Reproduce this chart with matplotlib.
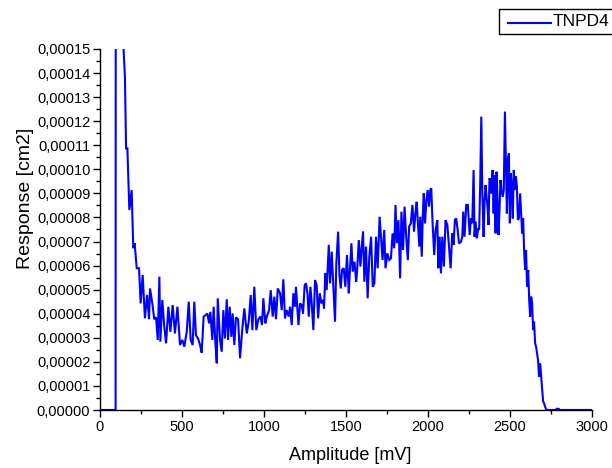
import matplotlib
matplotlib.use("Agg")
import matplotlib.pyplot as plt
from matplotlib.ticker import MultipleLocator, FuncFormatter
from matplotlib.patches import Rectangle
from matplotlib.lines import Line2D

plt.rcParams['font.family'] = ['Liberation Sans', 'DejaVu Sans']

# Amplitude [mV]
amplitude = [0, 95, 98, 110, 120, 130, 140, 152, 159, 167, 179, 193, 203, 211, 224, 238,
             248, 260, 274, 287, 299, 305, 319, 331, 342, 352, 362, 368, 380, 392, 403,
             417, 429, 443, 457, 472, 488, 502, 514, 529, 541, 553, 565, 575, 585, 598,
             610, 620, 632, 644, 655, 665, 673, 685, 693, 703, 712, 718, 732, 742, 752,
             762, 773, 781, 791, 801, 809, 819, 829, 842, 854, 868, 880, 895, 907, 919,
             929, 941, 953, 966, 978, 988, 996, 1008, 1017, 1031, 1041, 1053, 1063, 1073,
             1084, 1098, 1108, 1118, 1128, 1138, 1151, 1159, 1169, 1179, 1189, 1195, 1210,
             1220, 1230, 1238, 1248, 1256, 1265, 1273, 1283, 1291, 1301, 1311, 1321, 1330,
             1340, 1350, 1360, 1366, 1374, 1382, 1395, 1403, 1413, 1423, 1433, 1441, 1452,
             1460, 1468, 1476, 1486, 1496, 1506, 1517,
             1523, 1533, 1541, 1552, 1562, 1568, 1578, 1588, 1596, 1604, 1612, 1622, 1632,
             1642, 1653, 1663, 1673, 1683, 1693, 1705, 1713, 1723, 1733, 1741, 1752, 1764,
             1774, 1784, 1794, 1802, 1810, 1820, 1830, 1838, 1848, 1857, 1867, 1877, 1885,
             1895, 1905, 1915, 1923, 1931, 1939, 1947, 1953, 1962, 1968, 1974, 1982, 1990,
             1998, 2006, 2014, 2020, 2028, 2038, 2046, 2057, 2063, 2071, 2079, 2087, 2097,
             2107,
             2118, 2128, 2138, 2148, 2156, 2164, 2172, 2181, 2189, 2201, 2209, 2215, 2223,
             2233, 2243, 2254, 2262, 2270, 2278, 2284, 2290, 2298, 2306, 2312, 2318, 2325,
             2331, 2339, 2345, 2351, 2357, 2363, 2369, 2375, 2381, 2387, 2394, 2400, 2406,
             2412, 2418, 2424, 2430, 2436, 2442, 2448, 2456, 2462, 2469, 2475, 2481, 2487,
             2493, 2499, 2505, 2511, 2517, 2523, 2529, 2536, 2542, 2548, 2554, 2562, 2568,
             2574, 2580, 2586, 2592, 2598, 2604, 2611, 2617, 2623, 2629, 2635, 2641, 2647,
             2653, 2659, 2665, 2671, 2677, 2684, 2690, 2696, 2702, 2708, 2714, 2720, 2728,
             2777, 2785, 2797, 2805, 3000]

# Response [1e-5 cm2]
response_e5 = [0, 0, 50, 32, 24, 19, 15.5, 13.85, 10.87, 10.87, 8.31, 9.14, 6.72, 6.93, 5.89, 5.89,
               4.43, 5.61, 3.81, 4.78, 3.77, 5.05, 4.43, 3.77, 3.85, 2.91, 5.54, 2.84, 4.57, 3.46, 2.77,
               4.29, 3.25, 4.36, 3.18, 4.29, 2.70, 2.91, 2.63, 3.25, 4.50, 2.91, 2.70, 4.50, 3.11, 2.97,
               2.70, 2.38, 3.88, 3.94, 4.01, 3.60, 4.08, 2.91, 4.29, 2.84, 1.94, 4.64, 2.91, 2.42, 4.15,
               2.97, 4.60, 2.91, 4.29, 3.04, 4.01, 2.70, 3.85, 3.77, 2.15, 3.39, 4.22, 3.18, 3.67, 4.78,
               3.32, 5.12, 3.32, 3.77, 3.88, 3.53, 4.64, 3.60, 3.88, 4.15, 4.98, 3.88, 4.71, 3.77,
               5.05, 4.85, 4.15, 5.43, 3.81, 4.15, 3.88, 4.29, 3.53, 4.85, 4.29, 5.12, 3.53,
               4.43, 4.36, 4.01, 5.19, 5.26, 4.85, 3.88, 5.12, 4.43, 3.32, 5.40, 5.19, 3.81,
               4.85, 4.43, 4.57, 4.22, 5.68, 4.98, 6.86, 5.26, 6.58, 5.12, 3.67, 6.09, 7.41,
               5.61, 5.05, 5.82, 5.89, 5.12, 6.44, 4.85,
               5.68, 6.93, 5.75, 6.16, 5.33, 5.82, 7.06, 5.96, 6.79, 7.41, 5.33, 6.79, 4.64,
               6.37, 7.20, 5.12, 5.26, 7.20, 5.89, 8.03, 7.20, 6.23, 7.48, 5.89, 6.51, 6.23,
               6.30, 7.34, 6.72, 8.52, 6.93, 7.89, 5.47, 8.24, 6.65, 8.45, 7.20, 6.23, 7.62,
               7.75, 8.52, 7.41, 8.17, 8.65, 7.68, 6.79, 8.03, 6.37, 8.03, 9.00, 7.75, 8.72,
               9.14, 8.45, 9.14, 9.21, 7.75, 6.44, 7.48, 7.89, 5.89, 7.20, 5.68, 7.20, 5.96,
               7.89,
               7.69, 6.79, 5.89, 7.34, 6.86, 7.90, 7.96, 7.48, 6.92, 6.99, 7.20, 8.24, 7.20,
               8.52, 8.52, 7.27, 7.96, 7.76, 9.97, 7.20, 7.83, 7.13, 7.55, 7.48, 9.28, 12.19,
               9.14, 7.20, 8.66, 9.35, 8.86, 8.45, 7.69, 9.63, 9.49, 9.00, 9.97, 8.17, 9.76,
               7.34, 9.90, 8.73, 7.27, 8.31, 9.56, 9.14, 8.86, 9.14, 12.40, 10.25, 8.17, 10.39,
               10.66, 7.76, 9.83, 9.28, 7.96, 9.97, 9.14, 9.70, 9.28, 7.90, 7.96, 9.00, 8.17,
               7.34, 7.96, 6.65, 5.82, 6.65, 5.12, 5.82, 4.57, 3.88, 4.71, 4.43, 3.32, 3.67,
               2.77, 2.63, 2.35, 2.08, 1.39, 1.94, 1.39, 0.83, 0.35, 0.28, 0.14, 0.03, 0,
               0, 0.05, 0.05, 0, 0]

response = [v * 1e-5 for v in response_e5]

series_name = "TNPD4"
x_label = "Amplitude [mV]"
y_label = "Response [cm2]"

W, H = 612, 468
fig = plt.figure(figsize=(W/100, H/100), dpi=100)
ax = fig.add_axes([100/W, 1-410/H, 492/W, 361/H])

line, = ax.plot(amplitude, response, color='#0000ff', lw=1.5, label=series_name,
                solid_joinstyle='miter')

ax.set_xlim(0, 3000)
ax.set_ylim(0, 0.00015)
ax.spines['top'].set_visible(False)
ax.spines['right'].set_visible(False)
for s in ['left', 'bottom']:
    ax.spines[s].set_linewidth(1.0)

ax.xaxis.set_major_locator(MultipleLocator(500))
ax.xaxis.set_minor_locator(MultipleLocator(250))
ax.yaxis.set_major_locator(MultipleLocator(1e-5))
ax.yaxis.set_minor_locator(MultipleLocator(5e-6))
ax.yaxis.set_major_formatter(FuncFormatter(lambda v, p: f"{v:.5f}".replace('.', ',')))
ax.tick_params(which='major', direction='out', length=5, width=1, labelsize=10.5, pad=2)
ax.tick_params(which='minor', direction='out', length=3, width=1)
ax.tick_params(top=False, right=False, which='both')

# axis titles
fig.text(350/W, 1-460/H, x_label, ha='center', va='baseline', fontsize=13)
fig.text(30/W, 1-198/H, y_label, ha='center', va='baseline', rotation=90, fontsize=14,
         rotation_mode='anchor')

# legend box (extends past the right edge like the reference)
fig.patches.append(Rectangle((499/W, 1-34/H), 140/W, 25/H, transform=fig.transFigure,
                             facecolor='white', edgecolor='black', lw=1.0))
fig.lines.append(Line2D([508/W, 551/W], [1-23/H, 1-23/H], transform=fig.transFigure,
                        color='#0000ff', lw=1.5))
fig.text(553/W, 1-22/H, series_name, ha='left', va='center', fontsize=12.5)

fig.savefig("out.png", dpi=100)
